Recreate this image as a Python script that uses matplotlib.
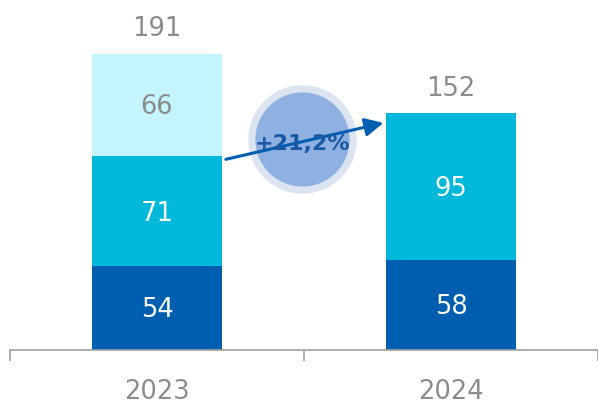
import matplotlib
matplotlib.use("Agg")
import matplotlib.pyplot as plt
import numpy as np

years = ["2023", "2024"]
seg_bottom = [54, 58]
seg_middle = [71, 95]
seg_top = [66, 0]
totals = [191, 152]
growth_label = "+21,2%"

c_dark = "#005EB0"
c_mid = "#00B8D9"
c_light = "#C4F4FF"
c_gray = "#8C8C8C"

fig = plt.figure(figsize=(5.98, 4.07), dpi=100)
ax = fig.add_axes([10 / 598, 57 / 407, 588 / 598, 350 / 407])
ax.set_xlim(-0.5, 1.5)
ax.set_ylim(0, 350 / 1.55)

x = np.arange(len(years))
w = 0.44
ax.bar(x, seg_bottom, w, color=c_dark)
ax.bar(x, seg_middle, w, bottom=seg_bottom, color=c_mid)
base3 = np.array(seg_bottom) + np.array(seg_middle)
ax.bar(x, seg_top, w, bottom=base3, color=c_light)

fs = 18.5
half_digit = -0.36 * fs  # shift baseline so the digits sit centred


def seg_label(xv, yv, txt, col):
    ax.annotate(txt, (xv, yv), xytext=(0, half_digit), textcoords="offset points",
                ha="center", va="baseline", color=col, fontsize=fs)


for i in range(len(years)):
    seg_label(x[i], seg_bottom[i] / 2, str(seg_bottom[i]), "white")
    seg_label(x[i], seg_bottom[i] + seg_middle[i] / 2, str(seg_middle[i]), "white")
    if seg_top[i]:
        seg_label(x[i], base3[i] + seg_top[i] / 2, str(seg_top[i]), c_gray)
    ax.annotate(str(totals[i]), (x[i], totals[i]), xytext=(0, 13), textcoords="offset points",
                ha="center", va="baseline", color=c_gray, fontsize=fs)

# growth badge between the bars
ax.scatter([0.493], [136], s=6100, color="#DCE4F2", zorder=3, linewidths=0)
ax.scatter([0.493], [136], s=4600, color="#8EB1E1", zorder=4, linewidths=0)
ax.annotate("", xy=(0.77, 146.5), xytext=(0.234, 123),
            arrowprops=dict(arrowstyle="-|>,head_length=1.1,head_width=0.55",
                            color=c_dark, lw=2.2, shrinkA=0, shrinkB=0), zorder=5)
ax.text(0.493, 133, growth_label, ha="center", va="center", color="#1A58A3",
        fontsize=16, fontweight="bold", zorder=6)

# axis line with category separators
for s in ["top", "right", "left"]:
    ax.spines[s].set_visible(False)
ax.spines["bottom"].set_color("#A0A0A0")
ax.spines["bottom"].set_linewidth(1.2)
ax.set_yticks([])
ax.set_xticks([-0.5, 0.5, 1.5], minor=False)
ax.set_xticklabels([])
ax.tick_params(axis="x", which="major", length=8, color="#A0A0A0", width=1.2)
ax.set_xticks(x, minor=True)
ax.set_xticklabels(years, minor=True)
ax.tick_params(axis="x", which="minor", length=0, pad=21, labelsize=fs, labelcolor=c_gray)
for t in ax.get_xticklines():
    t.set_clip_on(False)

fig.savefig("out.png", dpi=100)
